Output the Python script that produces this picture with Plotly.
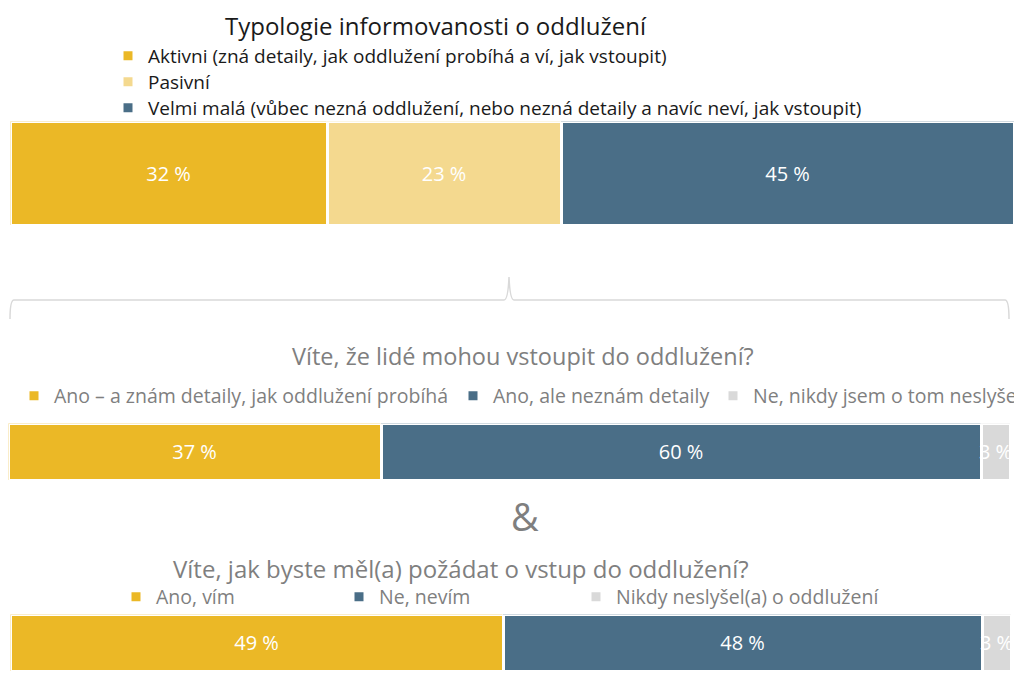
import plotly.graph_objects as go

# ---------------- data ----------------
typ_labels = [
    "Aktivni (zná detaily, jak oddlužení probíhá a ví, jak vstoupit)",
    "Pasivní",
    "Velmi malá (vůbec nezná oddlužení, nebo nezná detaily a navíc neví, jak vstoupit)",
]
typ_values = [31.6, 23.3, 45.1]

q1_labels = [
    "Ano – a znám detaily, jak oddlužení probíhá",
    "Ano, ale neznám detaily",
    "Ne, nikdy jsem o tom neslyšel",
]
q1_values = [37.2, 59.9, 2.9]

q2_labels = ["Ano, vím", "Ne, nevím", "Nikdy neslyšel(a) o oddlužení"]
q2_values = [49.3, 47.8, 2.9]

title_main = "Typologie informovanosti o oddlužení"
title_q1 = "Víte, že lidé mohou vstoupit do oddlužení?"
title_q2 = "Víte, jak byste měl(a) požádat o vstup do oddlužení?"

# ---------------- style ----------------
OFF = 8                 # default body margin of the page
W, H = 1022 - OFF, 677 - OFF
FONT = "Open Sans"
GOLD = "#EBB826"
LIGHT = "#F4D98F"
BLUE = "#4A6E87"
GREY = "#D9D9D9"
DARK = "#1A1A1A"
MID = "#7F7F7F"


def X(px):
    return (px - OFF) / W


def Y(py):
    return 1 - (py - OFF) / H


fig = go.Figure()


def add_bar(values, labels, colors, axis_idx, legends):
    sfx = "" if axis_idx == 1 else str(axis_idx)
    for v, lab, col, lg in zip(values, labels, colors, legends):
        fig.add_trace(go.Bar(
            x=[v], y=[0], orientation="h", width=1,
            name=lab,
            marker=dict(color=col, line=dict(color="white", width=3)),
            text=[f"{round(v)} %"], textposition="inside", textangle=0,
            insidetextanchor="middle",
            textfont=dict(color="white", size=20, family=FONT),
            xaxis="x" + sfx, yaxis="y" + sfx,
            legend=lg, hoverinfo="name+x",
        ))


add_bar(typ_values, typ_labels, [GOLD, LIGHT, BLUE], 1, ["legend", "legend8", "legend9"])
add_bar(q1_values, q1_labels, [GOLD, BLUE, GREY], 2, ["legend2", "legend3", "legend4"])
add_bar(q2_values, q2_labels, [GOLD, BLUE, GREY], 3, ["legend5", "legend6", "legend7"])

axis_common = dict(visible=False, fixedrange=True)
layout = dict(
    width=W, height=H,
    margin=dict(l=0, r=0, t=0, b=0, autoexpand=False),
    paper_bgcolor="white", plot_bgcolor="white",
    barmode="stack", bargap=0,
    showlegend=True,
    uniformtext=dict(minsize=20, mode="show"),
    font=dict(family=FONT),
    xaxis=dict(domain=[X(10.5), X(1014.5)], range=[0, 100], anchor="y", **axis_common),
    yaxis=dict(domain=[Y(225.5), Y(121.5)], range=[-0.5, 0.5], anchor="x", **axis_common),
    xaxis2=dict(domain=[X(8.5), X(1010.5)], range=[0, 100], anchor="y2", **axis_common),
    yaxis2=dict(domain=[Y(480.5), Y(423.5)], range=[-0.5, 0.5], anchor="x2", **axis_common),
    xaxis3=dict(domain=[X(10.5), X(1011.5)], range=[0, 100], anchor="y3", **axis_common),
    yaxis3=dict(domain=[Y(671.5), Y(614.5)], range=[-0.5, 0.5], anchor="x3", **axis_common),
)

leg_common = dict(bgcolor="rgba(0,0,0,0)", borderwidth=0, itemclick=False,
                  itemdoubleclick=False, orientation="h",
                  xanchor="left", yanchor="middle")
# legend text starts ~40 px right of the legend's x position
top_y = [56, 82, 108]
for name, yy in zip(["legend", "legend8", "legend9"], top_y):
    layout[name] = dict(x=X(148 - 40), y=Y(yy),
                        font=dict(size=19, color=DARK, family=FONT), **leg_common)
l2_x = [54, 493, 753]
l3_x = [156, 379, 616]
for i, xx in enumerate(l2_x):
    layout[f"legend{i + 2}"] = dict(x=X(xx - 40), y=Y(396),
                                    font=dict(size=19.5, color=MID, family=FONT), **leg_common)
for i, xx in enumerate(l3_x):
    layout[f"legend{i + 5}"] = dict(x=X(xx - 40), y=Y(597),
                                    font=dict(size=19.5, color=MID, family=FONT), **leg_common)

layout["annotations"] = [
    dict(text=title_main, x=X(436), y=Y(25), xref="paper", yref="paper",
         showarrow=False, xanchor="center", yanchor="middle",
         font=dict(size=24, color=DARK, family=FONT)),
    dict(text=title_q1, x=X(523), y=Y(356), xref="paper", yref="paper",
         showarrow=False, xanchor="center", yanchor="middle",
         font=dict(size=23.5, color=MID, family=FONT)),
    dict(text="&", x=X(525), y=Y(516), xref="paper", yref="paper",
         showarrow=False, xanchor="center", yanchor="middle",
         font=dict(size=38, color=MID, family=FONT)),
    dict(text=title_q2, x=X(461), y=Y(568), xref="paper", yref="paper",
         showarrow=False, xanchor="center", yanchor="middle",
         font=dict(size=24, color=MID, family=FONT)),
]

# bracket connecting the typology bar with the two questions
path = (f"M {X(10)},{Y(319)} Q {X(10)},{Y(300)} {X(14)},{Y(300)} "
        f"L {X(504)},{Y(300)} Q {X(508)},{Y(300)} {X(509)},{Y(277)} "
        f"Q {X(510)},{Y(300)} {X(514)},{Y(300)} "
        f"L {X(1005)},{Y(300)} Q {X(1009)},{Y(300)} {X(1009)},{Y(319)}")
layout["shapes"] = [dict(type="path", path=path, xref="paper", yref="paper",
                         line=dict(color=GREY, width=1.5))]

fig.update_layout(**layout)
fig.write_html("out.html")
